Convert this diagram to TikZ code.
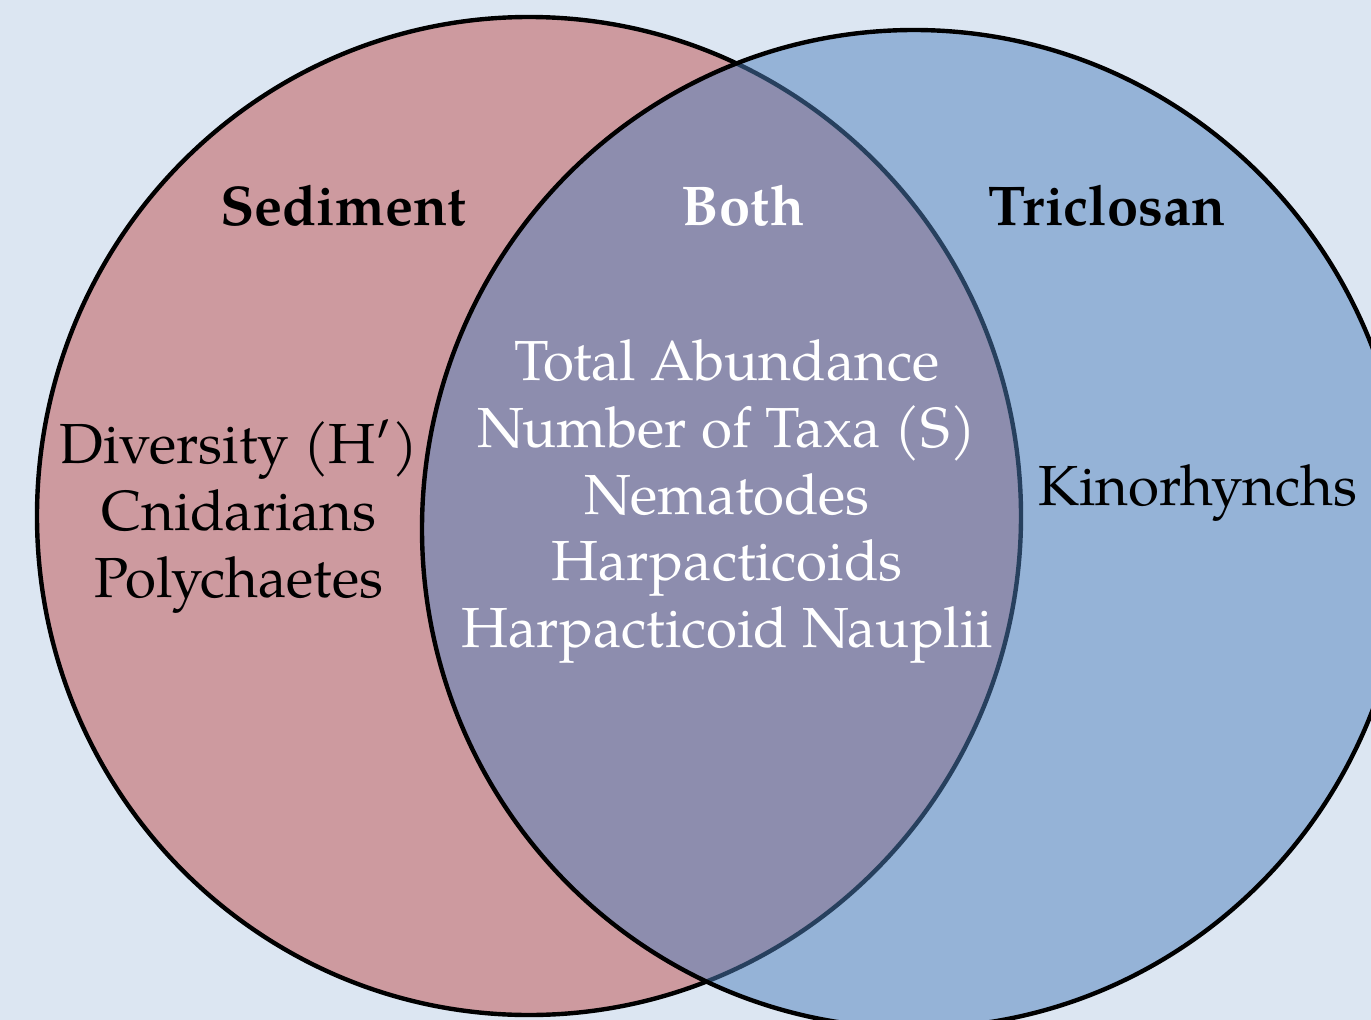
\documentclass[tikz,border=0pt]{standalone}
\usepackage{fontspec}
\setmainfont{TeX Gyre Pagella}
\definecolor{bgc}{HTML}{DCE6F2}
\definecolor{redc}{HTML}{C0504D}
\definecolor{bluec}{HTML}{4F81BD}
\tikzset{
  setc/.style={draw=black, line width=4.4pt, fill opacity=0.5},
  lbl/.style={anchor=base, inner sep=0pt, font=\fontsize{56.5}{66}\selectfont},
  ttl/.style={lbl, font=\fontsize{56}{66}\selectfont\bfseries},
}
\begin{document}
\begin{tikzpicture}[x=1pt, y=-1pt]
\fill[bgc] (0,0) rectangle (1371,1020);
\useasboundingbox (0,0) rectangle (1371,1020);
\begin{scope}
\clip (0,0) rectangle (1371,1020);
\path[setc, fill=redc] (529,516) ellipse [x radius=492pt, y radius=499pt];
\path[setc, fill=bluec] (914,529) ellipse [x radius=492pt, y radius=499pt];
\end{scope}
\node[ttl] (sed) at (343,225) {Sediment};
\node[ttl, text=white] (both) at (743,225) {Both};
\node[ttl] (tri) at (1107,225) {Triclosan};
\node[lbl] (l1) at (239,463) {Diversity (H′)};
\node[lbl] (l2) at (239,530) {Cnidarians};
\node[lbl] (l3) at (239,597) {Polychaetes};
\node[lbl, text=white] (m1) at (727,380) {Total Abundance};
\node[lbl, text=white] (m2) at (727,447) {Number of Taxa (S)};
\node[lbl, text=white] (m3) at (727,514) {Nematodes};
\node[lbl, text=white] (m4) at (727,580) {Harpacticoids};
\node[lbl, text=white] (m5) at (727,647) {Harpacticoid Nauplii};
\node[lbl] (r1) at (1198,505) {Kinorhynchs};
\end{tikzpicture}
\end{document}
